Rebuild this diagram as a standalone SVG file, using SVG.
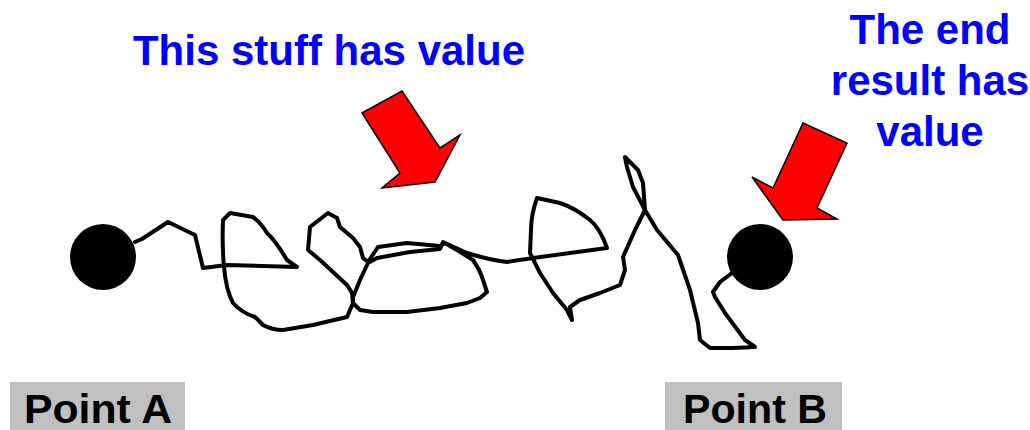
<svg xmlns="http://www.w3.org/2000/svg" width="1030" height="430" viewBox="0 0 1030 430">
<style>
.lbl{font-family:"Liberation Sans",Arial,sans-serif;font-weight:bold;fill:#0000ff;font-size:42px;text-anchor:middle}
.pt{font-family:"Liberation Sans",Arial,sans-serif;font-weight:bold;fill:#000;font-size:40px}
.box{fill:#c0c0c0}
.wire{fill:none;stroke:#000;stroke-width:4;stroke-linejoin:round;stroke-linecap:round}
.arrow{fill:#ff0000;stroke:#000;stroke-width:1.5;stroke-linejoin:miter}
</style>
<rect width="1030" height="430" fill="#fff"/>
<g id="connectors">
<path class="wire" d="M135,242 L142,239 L168,222 L195,235 L203,268 L227,265 L297,267 L287,260 Q275,240 267,233 Q260,222 253,217 L230,213 L223,220 Q222,245 224,267 Q226,290 233,303 Q242,313 255,317 L263,325 Q272,330 283,330 L313,325 L347,317 L353,303 L353,297 L360,280 L368,263 L377,258 L410,252 L440,249 L443,242 L457,250 L473,260 Q480,270 483,280 L487,292 L480,298 L467,303 L440,308 L407,312 L373,312 L360,310 L353,303 L352,293 L347,285 L320,260 L308,250 L310,227 L328,213 L337,218 L340,227 L353,238 L360,247 L363,258 L368,262 L376,250 L378,247 L407,243 L440,246 L445,243 L467,253 Q490,260 507,262 L533,258 L607,248 Q600,228 590,220 Q575,208 560,203 L537,198 Q531,215 531,230 L530,253 L540,273 L553,293 L567,310 L572,320 L570,307 L580,300 L600,293 L620,285 L625,270 L623,257 L635,230 L645,210 L643,183 L638,170 L625,157 L627,167 L633,187 L645,210 L657,230 L678,255 L690,290 L698,323 L700,340 L710,348 L733,348 L755,347 L745,340 L725,313 L715,297 L713,292 L720,282 L732,273"/>
</g>
<g id="pointA">
<circle cx="103" cy="257" r="33" fill="#000"/>
<rect class="box" x="10" y="382" width="175" height="48"/>
<text class="pt" x="24" y="423" textLength="148" lengthAdjust="spacingAndGlyphs">Point A</text>
</g>
<g id="pointB">
<circle cx="760" cy="257" r="33" fill="#000"/>
<rect class="box" x="665" y="382" width="177" height="48"/>
<text class="pt" x="683" y="423" textLength="144" lengthAdjust="spacingAndGlyphs">Point B</text>
</g>
<g id="label1">
<text class="lbl" x="329" y="65">This stuff has value</text>
<polygon class="arrow" points="362,113 402,91 440,148 460,135 435,182 382,188 400,173"/>
</g>
<g id="label2">
<text class="lbl" x="930" y="44">The end</text>
<text class="lbl" x="930" y="95">result has</text>
<text class="lbl" x="930" y="146">value</text>
<polygon class="arrow" points="803,123 847,143 817,208 837,219 783,220 752,177 773,188"/>
</g>
</svg>
